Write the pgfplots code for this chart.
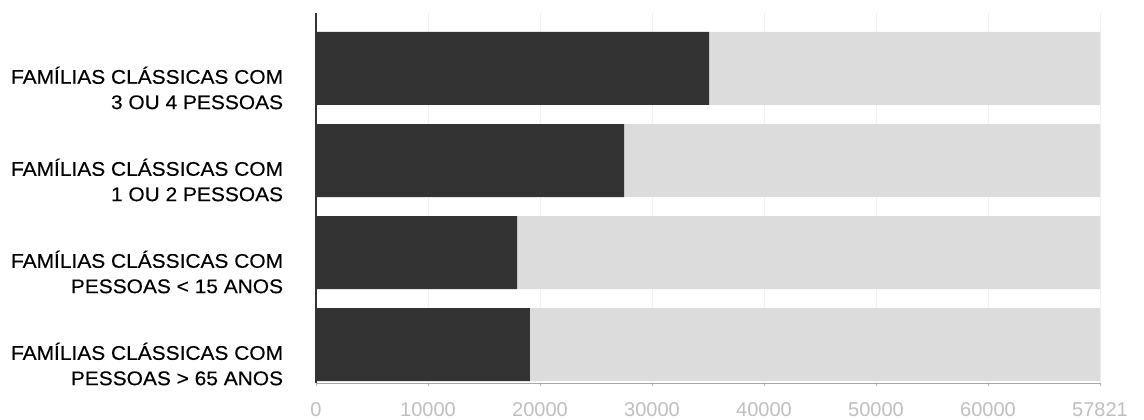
\documentclass[border=0pt]{standalone}
\usepackage{fontspec}
\setmainfont{Liberation Sans}
\newfontfamily\lblfont[FakeStretch=1.06,FakeBold=0.3]{Liberation Sans}
\usepackage{pgfplots}
\pgfplotsset{compat=1.18}
\definecolor{darkbar}{RGB}{51,51,51}
\definecolor{lightbar}{RGB}{220,220,220}
\begin{document}
\begin{tikzpicture}
\begin{axis}[name=ax, scale only axis, width=588pt, height=277.5pt,
  xbar stacked, bar width=54.75pt,
  xmin=0, xmax=70000, ymin=-0.418, ymax=3.603,
  axis x line*=bottom, axis y line*=left,
  x axis line style={draw=gray!70, line width=0.6pt},
  y axis line style={draw=black!80, line width=1pt},
  xtick={0,10000,20000,30000,40000,50000,60000,70000},
  xticklabels={0,10000,20000,30000,40000,50000,60000,57821},
  scaled x ticks=false,
  /pgf/number format/assume math mode=true,
  x tick label style={font=\fontsize{15pt}{15pt}\selectfont, text=gray!50, inner sep=0pt, yshift=-12pt},
  tick align=outside,
  major tick length=2.5pt,
  xtick style={draw=gray!60, line width=0.5pt},
  ytick={0,1,2,3},
  yticklabels={{FAMÍLIAS CLÁSSICAS COM\\PESSOAS > 65 ANOS},
               {FAMÍLIAS CLÁSSICAS COM\\PESSOAS < 15 ANOS},
               {FAMÍLIAS CLÁSSICAS COM\\1 OU 2 PESSOAS},
               {FAMÍLIAS CLÁSSICAS COM\\3 OU 4 PESSOAS}},
  y tick label style={font=\lblfont\fontsize{14.8pt}{19pt}\selectfont, align=right, text=black, inner sep=0pt, xshift=-22pt, yshift=-14.6pt},
  ytick style={draw=none},
  xmajorgrids, grid style={draw=gray!12, line width=0.5pt},
]
\addplot[fill=darkbar, draw=none] coordinates {(19100,0) (17950,1) (27500,2) (35100,3)};
\addplot[fill=lightbar, draw=none] coordinates {(50900,0) (52050,1) (42500,2) (34900,3)};
\end{axis}
\pgfresetboundingbox
\path ([shift={(-237pt,-27pt)}]ax.south west) rectangle ([shift={(33pt,9.75pt)}]ax.north east);
\end{tikzpicture}
\end{document}
